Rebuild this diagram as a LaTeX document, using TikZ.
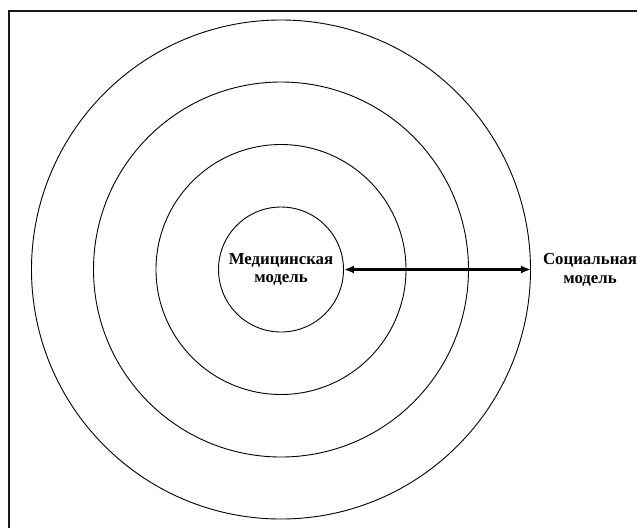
\documentclass[tikz,border=0pt]{standalone}
\usepackage{fontspec}
\setmainfont{Liberation Serif}
\usetikzlibrary{arrows.meta}
\begin{document}
\begin{tikzpicture}[x=1pt,y=-1pt,
  ring/.style={draw=black,line width=0.9pt,circle,inner sep=0pt},
  lbl/.style={font=\bfseries\fontsize{16.8}{18.5}\selectfont,align=center,inner sep=0pt},
  frameline/.style={line width=2.6pt,draw=black!90}]
\useasboundingbox (0,0) rectangle (637,528);
\coordinate (c) at (281,269.5);
\node[ring,minimum size=125pt] (r1) at (c) {};
\node[ring,minimum size=250pt] (r2) at (c) {};
\node[ring,minimum size=375pt] (r3) at (c) {};
\node[ring,minimum size=499pt] (r4) at (c) {};
\coordinate (fb) at (9,528);
\coordinate (fc) at (9,11);
\coordinate (fr) at (637,11);
\draw[frameline] (fb) -- (fc) -- (fr);
\node[lbl] (med) at (c) {Медицинская\\модель};
\node[lbl] (soc) at (590,270) {Социальная\\модель};
\draw[line width=2.4pt,{Latex[length=10pt,width=8pt]}-{Latex[length=10pt,width=8pt]}] (r1.east) -- (r4.east);
\end{tikzpicture}
\end{document}
